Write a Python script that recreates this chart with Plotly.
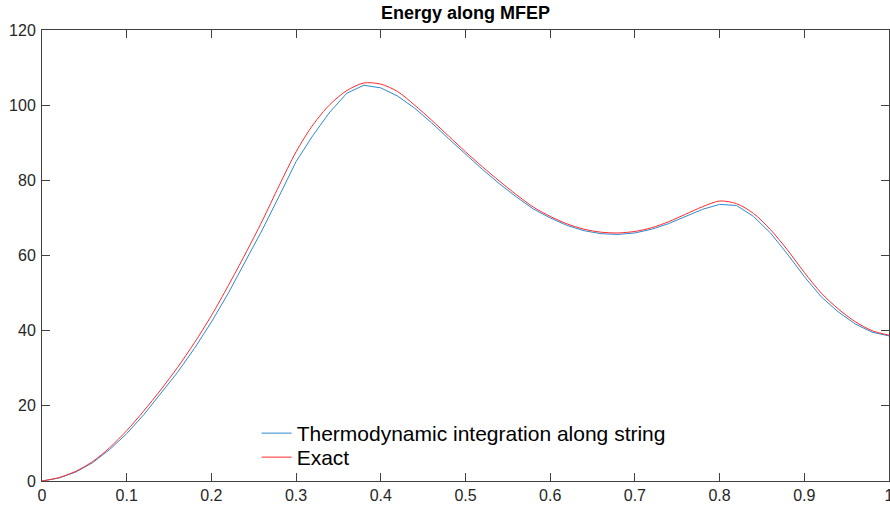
import plotly.graph_objects as go

x_grid = [0.00, 0.02, 0.04, 0.06, 0.08, 0.10, 0.12, 0.14, 0.16, 0.18,
          0.20, 0.22, 0.24, 0.26, 0.28, 0.30, 0.32, 0.34, 0.36, 0.38,
          0.40, 0.42, 0.44, 0.46, 0.48, 0.50, 0.52, 0.54, 0.56, 0.58,
          0.60, 0.62, 0.64, 0.66, 0.68, 0.70, 0.72, 0.74, 0.76, 0.78,
          0.80, 0.82, 0.84, 0.86, 0.88, 0.90, 0.92, 0.94, 0.96, 0.98, 1.00]

exact_energy = [0.0, 0.9, 2.6, 5.2, 8.9, 13.4, 18.6, 24.2, 30.2, 36.8,
                44.0, 52.0, 60.4, 69.2, 78.6, 87.6, 94.8, 100.2, 103.9, 105.9,
                105.6, 103.6, 100.0, 96.0, 91.8, 87.6, 83.6, 79.8, 76.2, 72.9,
                70.4, 68.4, 67.0, 66.2, 66.0, 66.4, 67.4, 69.0, 71.0, 73.0,
                74.5, 73.8, 71.2, 66.9, 61.5, 55.5, 50.0, 45.8, 42.4, 40.0, 38.8]

ti_energy = [0.0, 0.8, 2.4, 4.9, 8.4, 12.6, 17.6, 23.1, 28.9, 35.3,
             42.3, 50.0, 58.2, 66.8, 75.8, 85.0, 92.0, 98.2, 103.2, 105.3,
             104.6, 102.4, 99.2, 95.3, 91.1, 86.9, 82.9, 79.1, 75.6, 72.4,
             70.0, 68.0, 66.6, 65.8, 65.6, 66.0, 67.0, 68.5, 70.4, 72.3,
             73.6, 73.3, 70.4, 66.0, 60.4, 54.4, 49.0, 45.0, 41.8, 39.6, 38.6]

x_ticks = [0, 0.1, 0.2, 0.3, 0.4, 0.5, 0.6, 0.7, 0.8, 0.9, 1]
x_tick_labels = ["0", "0.1", "0.2", "0.3", "0.4", "0.5", "0.6", "0.7", "0.8", "0.9", "1"]
y_ticks = [0, 20, 40, 60, 80, 100, 120]

FONT = "Liberation Sans, Arial, Helvetica, sans-serif"
AX = "#404040"

fig = go.Figure()
fig.add_trace(go.Scatter(x=x_grid, y=ti_energy, mode="lines",
                         name="Thermodynamic integration along string",
                         legend="legend",
                         line=dict(color="#2f8ad0", width=1)))
fig.add_trace(go.Scatter(x=x_grid, y=exact_energy, mode="lines", name="Exact",
                         legend="legend2",
                         line=dict(color="#ff2a2a", width=1, shape="spline", smoothing=0.8)))

axis_common = dict(showline=True, linecolor=AX, linewidth=1, mirror="ticks",
                   ticks="inside", ticklen=8, tickcolor=AX, tickwidth=1,
                   showgrid=False, zeroline=False, ticklabeloverflow="allow",
                   automargin=False,
                   tickfont=dict(family=FONT, size=16, color="#262626"))

legend_common = dict(xanchor="left", yanchor="top", bgcolor="rgba(0,0,0,0)",
                     borderwidth=0, font=dict(family=FONT, size=21, color="black"))

fig.update_layout(
    width=890, height=509,
    margin=dict(l=42, r=1, t=30, b=28, autoexpand=False),
    paper_bgcolor="white", plot_bgcolor="white",
    title=dict(text="<b>Energy along MFEP</b>", x=0.523, xanchor="center",
               y=0.975, yanchor="middle",
               font=dict(family=FONT, size=18, color="black")),
    xaxis=dict(range=[0, 1], tickvals=x_ticks, ticktext=x_tick_labels, **axis_common),
    yaxis=dict(range=[0, 120], tickvals=y_ticks, ticklabelstandoff=2, **axis_common),
    legend=dict(x=0.2534, y=0.1508, **legend_common),
    legend2=dict(x=0.2534, y=0.0976, **legend_common),
    showlegend=True,
)

fig.write_html("out.html")
